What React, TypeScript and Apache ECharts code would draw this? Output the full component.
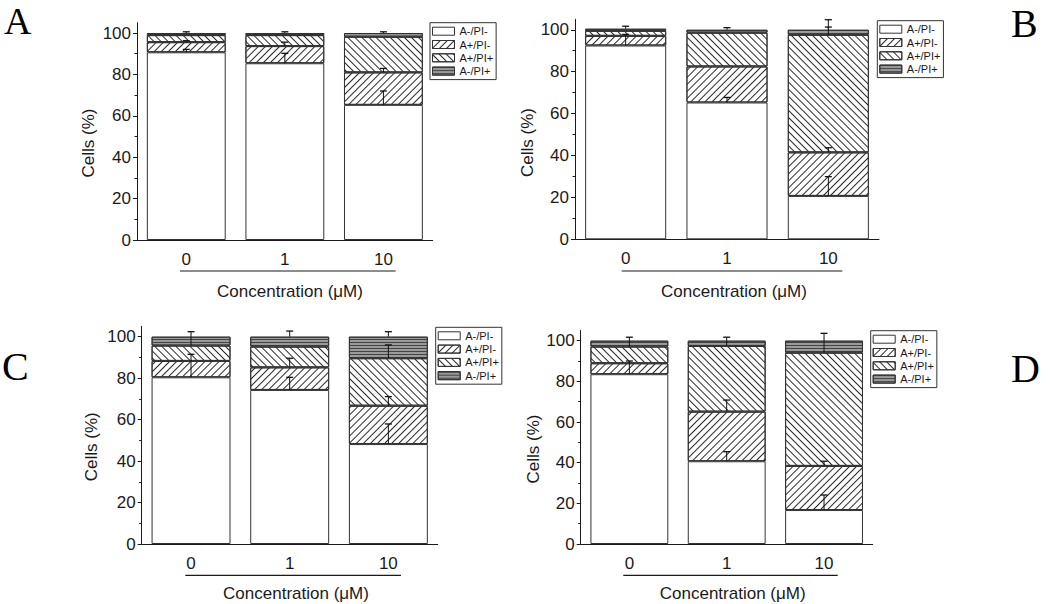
import React, { useEffect, useRef } from "react";
import * as echarts from "echarts";

// ---------- data ----------
const categories = ["0", "1", "10"];
const legendNames = ["A-/PI-", "A+/PI-", "A+/PI+", "A-/PI+"];
const yTickValues = [0, 20, 40, 60, 80, 100];
const yMinorTickValues = [10, 30, 50, 70, 90];
const panelLetters = ["A", "B", "C", "D"];
const xTitle = "Concentration (\u03bcM)";
const yTitle = "Cells (%)";

// rows follow legendNames order, columns follow categories
const valuesA = [
  [90.7, 85.4, 65.3],
  [4.9, 8.3, 15.7],
  [3.4, 5.3, 17.2],
  [1.0, 1.0, 1.8],
];
const errorsA = [
  [1.4, 4.8, 6.7],
  [0.7, 1.9, 1.9],
  [0, 0, 0],
  [0.6, 0.6, 0.6],
];
const valuesB = [
  [92.5, 65.3, 20.7],
  [4.6, 17.2, 20.8],
  [2.4, 16.1, 56.1],
  [1.0, 1.4, 2.4],
];
const errorsB = [
  [5.3, 2.4, 9.2],
  [0, 0, 2.2],
  [0, 0, 3.7],
  [1.2, 1.0, 4.8],
];
const valuesC = [
  [80.4, 74.3, 48.2],
  [7.9, 10.9, 18.5],
  [7.4, 10.0, 22.9],
  [4.3, 4.8, 10.4],
];
const errorsC = [
  [11.1, 6.1, 9.7],
  [0, 4.4, 4.4],
  [6.7, 0, 6.4],
  [0, 2.7, 2.4],
];
const valuesD = [
  [83.5, 40.7, 16.7],
  [5.4, 24.4, 21.7],
  [8.2, 32.3, 55.7],
  [2.9, 2.6, 5.9],
];
const errorsD = [
  [6.5, 4.7, 7.4],
  [0, 5.7, 2.3],
  [4.6, 4.3, 9.5],
  [0, 0, 0],
];

const panelValues = [valuesA, valuesB, valuesC, valuesD];
const panelErrors = [errorsA, errorsB, errorsC, errorsD];

// ---------- layout (pixels) ----------
const FONT = '"Liberation Sans", Arial, Helvetica, sans-serif';
const SERIF = '"Liberation Serif", "Times New Roman", serif';
const INK = "#1a1a1a";

const layouts = [
  {
    grid: { left: 137, top: 22.7, width: 295.7, height: 217.3 },
    legend: { left: 430, top: 22.7 },
    letter: { x: 4, y: 21, size: 38 },
    underline: { x1: 180, x2: 395.7, y: 271 },
    xTitlePos: { x: 290, y: 291.7 },
    yTitlePos: { x: 88, y: 143 },
  },
  {
    grid: { left: 575, top: 19.3, width: 304, height: 220 },
    legend: { left: 877.3, top: 20.7 },
    letter: { x: 1011, y: 23.5, size: 40 },
    underline: { x1: 621.7, x2: 842.3, y: 271 },
    xTitlePos: { x: 734, y: 291.7 },
    yTitlePos: { x: 527.5, y: 142.5 },
  },
  {
    grid: { left: 141.7, top: 326.3, width: 296, height: 217.7 },
    legend: { left: 435.7, top: 327.3 },
    letter: { x: 2, y: 366.5, size: 40 },
    underline: { x1: 185.3, x2: 401, y: 575.3 },
    xTitlePos: { x: 296, y: 593.3 },
    yTitlePos: { x: 91, y: 446.7 },
  },
  {
    grid: { left: 580.7, top: 330.5, width: 292, height: 213.5 },
    legend: { left: 870.7, top: 330.7 },
    letter: { x: 1011, y: 368.5, size: 40 },
    underline: { x1: 623.3, x2: 837.7, y: 575.3 },
    xTitlePos: { x: 732.7, y: 593.3 },
    yTitlePos: { x: 533, y: 449 },
  },
];

const segmentStyles: any[] = [
  { color: "#ffffff", borderColor: "#333", borderWidth: 1 },
  {
    color: "#ffffff",
    borderColor: "#333",
    borderWidth: 1,
    decal: {
      symbol: "rect",
      symbolSize: 1,
      dashArrayX: [1, 0],
      dashArrayY: [1, 3.6],
      rotation: -Math.PI / 4,
      color: "#2a2a2a",
      backgroundColor: "#ffffff",
    },
  },
  {
    color: "#ffffff",
    borderColor: "#333",
    borderWidth: 1,
    decal: {
      symbol: "rect",
      symbolSize: 1,
      dashArrayX: [1, 0],
      dashArrayY: [1, 3.6],
      rotation: Math.PI / 4,
      color: "#2a2a2a",
      backgroundColor: "#ffffff",
    },
  },
  {
    color: "#9a9a9a",
    borderColor: "#333",
    borderWidth: 1,
    decal: {
      symbol: "rect",
      symbolSize: 1,
      dashArrayX: [1, 0],
      dashArrayY: [1, 1.2],
      rotation: 0,
      color: "#444444",
      backgroundColor: "#b0b0b0",
    },
  },
];

function renderErrorBar(params: any, api: any) {
  const x = api.value(0);
  const base = api.value(1);
  const err = api.value(2);
  const p0 = api.coord([x, base]);
  const p1 = api.coord([x, base + err]);
  return {
    type: "group",
    children: [
      {
        type: "line",
        shape: { x1: p0[0], y1: p0[1], x2: p1[0], y2: p1[1] },
        style: { stroke: "#111", lineWidth: 1 },
      },
      {
        type: "line",
        shape: { x1: p1[0] - 3.5, y1: p1[1], x2: p1[0] + 3.5, y2: p1[1] },
        style: { stroke: "#111", lineWidth: 1.3 },
      },
    ],
  };
}

function buildOption() {
  const grid: any[] = [];
  const xAxis: any[] = [];
  const yAxis: any[] = [];
  const series: any[] = [];
  const legend: any[] = [];
  const graphic: any[] = [];

  layouts.forEach((L, p) => {
    grid.push({ ...L.grid, containLabel: false });
    xAxis.push({
      type: "category",
      gridIndex: p,
      data: categories,
      axisTick: { show: false },
      axisLine: { lineStyle: { color: INK, width: 1 } },
      axisLabel: { fontSize: 17, fontFamily: FONT, color: INK, margin: 11 },
      splitLine: { show: false },
    });
    // main y axis
    yAxis.push({
      type: "value",
      gridIndex: p,
      position: "left",
      min: 0,
      max: 105,
      interval: 20,
      axisLine: { show: true, lineStyle: { color: INK, width: 1 } },
      axisTick: {
        show: true,
        length: 4,
        customValues: yTickValues,
        lineStyle: { color: INK, width: 1 },
      },
      axisLabel: {
        fontSize: 17,
        fontFamily: FONT,
        color: INK,
        margin: 6,
        customValues: yTickValues,
      },
      splitLine: { show: false },
    });
    // minor ticks axis
    yAxis.push({
      type: "value",
      gridIndex: p,
      position: "left",
      offset: 0,
      min: 0,
      max: 105,
      interval: 10,
      axisLine: { show: false },
      axisTick: {
        show: true,
        length: 2.5,
        customValues: yMinorTickValues,
        lineStyle: { color: INK, width: 1 },
      },
      axisLabel: { show: false },
      splitLine: { show: false },
    });

    const vals = panelValues[p];
    const errs = panelErrors[p];
    legendNames.forEach((name, i) => {
      series.push({
        type: "bar",
        name,
        xAxisIndex: p,
        yAxisIndex: p * 2,
        stack: "panel" + p,
        barCategoryGap: "20%",
        data: vals[i],
        itemStyle: segmentStyles[i],
        emphasis: { disabled: true },
      });
    });

    const errData: number[][] = [];
    for (let j = 0; j < categories.length; j++) {
      let base = 0;
      for (let i = 0; i < legendNames.length; i++) {
        base += vals[i][j];
        if (errs[i][j] > 0) errData.push([j, base, errs[i][j]]);
      }
    }
    series.push({
      type: "custom",
      name: "error" + p,
      xAxisIndex: p,
      yAxisIndex: p * 2,
      z: 5,
      renderItem: renderErrorBar,
      encode: { x: 0, y: 1 },
      data: errData,
      silent: true,
    });

    legend.push({
      left: L.legend.left,
      top: L.legend.top,
      orient: "vertical",
      data: legendNames,
      icon: "rect",
      itemWidth: 22,
      itemHeight: 8,
      itemGap: 2.3,
      padding: [3, 3, 3, 2],
      borderColor: "#333",
      borderWidth: 1,
      backgroundColor: "#fff",
      selectedMode: false,
      textStyle: { fontSize: 11, fontFamily: FONT, color: INK },
      itemStyle: { borderWidth: 1, borderColor: "#333" },
    });

    graphic.push({
      type: "text",
      x: L.letter.x,
      y: L.letter.y,
      style: {
        text: panelLetters[p],
        font: `${L.letter.size}px ${SERIF}`,
        fill: "#000",
        textAlign: "left",
        textVerticalAlign: "middle",
      },
    });
    graphic.push({
      type: "line",
      shape: { x1: L.underline.x1, y1: L.underline.y, x2: L.underline.x2, y2: L.underline.y },
      style: { stroke: INK, lineWidth: 1.2 },
    });
    graphic.push({
      type: "text",
      x: L.xTitlePos.x,
      y: L.xTitlePos.y,
      style: {
        text: xTitle,
        font: `17px ${FONT}`,
        fill: INK,
        textAlign: "center",
        textVerticalAlign: "middle",
      },
    });
    graphic.push({
      type: "text",
      x: L.yTitlePos.x,
      y: L.yTitlePos.y,
      rotation: Math.PI / 2,
      style: {
        text: yTitle,
        font: `17px ${FONT}`,
        fill: INK,
        textAlign: "center",
        textVerticalAlign: "middle",
      },
    });
  });

  return {
    animation: false,
    backgroundColor: "#ffffff",
    grid,
    xAxis,
    yAxis,
    series,
    legend,
    graphic,
  };
}

export default function App() {
  const ref = useRef<HTMLDivElement>(null);
  useEffect(() => {
    if (!ref.current) return;
    const chart = echarts.init(ref.current, undefined, { renderer: "svg" });
    chart.setOption(buildOption() as any);
    return () => chart.dispose();
  }, []);
  return (
    <div
      ref={ref}
      style={{ position: "absolute", left: 0, top: 0, width: 1050, height: 604 }}
    />
  );
}
